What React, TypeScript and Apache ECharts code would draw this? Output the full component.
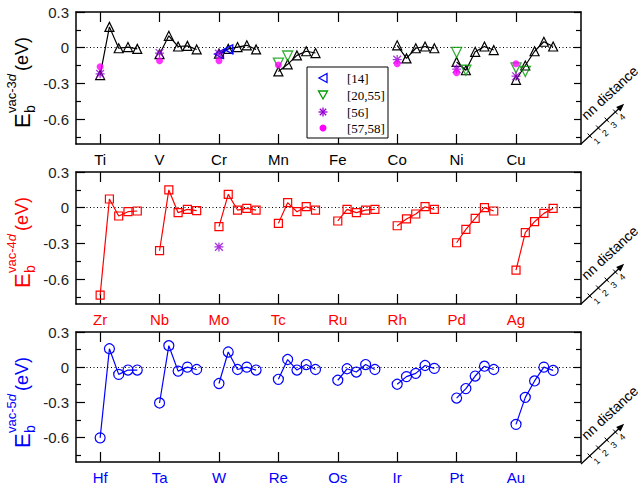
import React, { useEffect, useRef } from 'react';
import * as echarts from 'echarts';

// ---------------- data ----------------
const ELEMENTS_3D = ['Ti', 'V', 'Cr', 'Mn', 'Fe', 'Co', 'Ni', 'Cu'];
const ELEMENTS_4D = ['Zr', 'Nb', 'Mo', 'Tc', 'Ru', 'Rh', 'Pd', 'Ag'];
const ELEMENTS_5D = ['Hf', 'Ta', 'W', 'Re', 'Os', 'Ir', 'Pt', 'Au'];
const NN_DISTANCES = [1, 2, 3, 4, 5];

// binding energies (eV) for nn = 1..5, null = not computed
const EB_3D: (number[] | null)[] = [
  [-0.23, 0.175, -0.005, 0.005, -0.01], // Ti
  [-0.055, 0.1, 0.01, 0.015, -0.015], // V
  [-0.05, -0.01, 0.005, 0.02, -0.015], // Cr
  [-0.2, -0.14, -0.065, -0.03, -0.045], // Mn
  null, // Fe
  [0.02, -0.09, -0.005, 0.01, -0.005], // Co
  [-0.12, -0.19, -0.035, 0.01, -0.02], // Ni
  [-0.27, -0.15, -0.03, 0.05, 0.01], // Cu
];
const EB_4D: (number[] | null)[] = [
  [-0.736, 0.073, -0.07, -0.034, -0.028], // Zr
  [-0.362, 0.149, -0.042, -0.014, -0.025], // Nb
  [-0.16, 0.112, -0.02, -0.006, -0.02], // Mo
  [-0.132, 0.042, -0.034, 0.008, -0.02], // Tc
  [-0.112, -0.014, -0.042, -0.02, -0.014], // Ru
  [-0.152, -0.095, -0.053, 0.008, -0.014], // Rh
  [-0.295, -0.183, -0.09, 0.0, -0.028], // Pd
  [-0.525, -0.21, -0.118, -0.048, -0.006], // Ag
];
const EB_5D: (number[] | null)[] = [
  [-0.604, 0.157, -0.062, -0.025, -0.025], // Hf
  [-0.306, 0.183, -0.034, 0.0, -0.02], // Ta
  [-0.14, 0.129, -0.02, 0.0, -0.025], // W
  [-0.104, 0.065, -0.025, 0.022, -0.02], // Re
  [-0.112, -0.014, -0.042, 0.022, -0.02], // Os
  [-0.146, -0.081, -0.053, 0.014, -0.011], // Ir
  [-0.264, -0.183, -0.076, 0.008, -0.02], // Pt
  [-0.489, -0.258, -0.118, 0.0, -0.028], // Au
];

// literature values: [element, nn, value]
const REF_14: [string, number, number][] = [
  ['Cr', 1, -0.053],
  ['Cr', 2, -0.014],
];
const REF_20_55: [string, number, number][] = [
  ['Mn', 1, -0.13],
  ['Mn', 2, -0.07],
  ['Ni', 1, -0.04],
  ['Ni', 2, -0.19],
  ['Cu', 1, -0.17],
  ['Cu', 2, -0.2],
];
const REF_56_3D: [string, number, number][] = [
  ['Ti', 1, -0.22],
  ['V', 1, -0.045],
  ['Cr', 1, -0.05],
  ['Co', 1, -0.1],
  ['Ni', 1, -0.18],
  ['Cu', 1, -0.24],
];
const REF_56_4D: [string, number, number][] = [['Mo', 1, -0.33]];
const REF_57_58: [string, number, number][] = [
  ['Ti', 1, -0.16],
  ['V', 1, -0.11],
  ['Cr', 1, -0.11],
  ['Mn', 1, -0.145],
  ['Co', 1, -0.135],
  ['Ni', 1, -0.21],
  ['Cu', 1, -0.135],
];

const LEGEND_LABELS = ['[14]', '[20,55]', '[56]', '[57,58]'];
const Y_MAJOR = [-0.6, -0.3, 0, 0.3];
const Y_MINOR = [-0.75, -0.45, -0.15, 0.15];
const NN_TICK_LABELS = ['1', '2', '3', '4'];

// ---------------- layout / style ----------------
const X_STEP = 6.4;
const X_MIN = -2.6;
const X_MAX = 51.8;
const Y_MIN = -0.81;
const Y_MAX = 0.3;
const GRID_LEFT = 76;
const GRID_RIGHT = 60;
const GRID_TOPS = [12, 172, 332];
const GRID_H = 132;
const FONT = 'Liberation Sans, Arial, sans-serif';
const SERIF = 'Liberation Serif, Times New Roman, serif';
const BLACK = '#000000';
const RED = '#ff0000';
const BLUE = '#0000ff';
const GREEN = '#009a00';
const PURPLE = '#9400d3';
const MAGENTA = '#ff00ff';

const ASTERISK =
  'path://M4.3 0H5.7V10H4.3Z M0 4.3H10V5.7H0Z M1.2 0.2L9.8 8.8L8.8 9.8L0.2 1.2Z M8.8 0.2L9.8 1.2L1.2 9.8L0.2 8.8Z';

const PANELS = [
  { elements: ELEMENTS_3D, data: EB_3D, color: BLACK, symbol: 'triangle', size: 9, sup: 'vac-3' },
  { elements: ELEMENTS_4D, data: EB_4D, color: RED, symbol: 'rect', size: 8, sup: 'vac-4' },
  { elements: ELEMENTS_5D, data: EB_5D, color: BLUE, symbol: 'circle', size: 10, sup: 'vac-5' },
];

function refPoints(refs: [string, number, number][], elements: string[]) {
  return refs.map(([el, nn, v]) => [elements.indexOf(el) * X_STEP + (nn - 1), v]);
}

function nnDiagram(bottom: number): any[] {
  const ox = GRID_LEFT + (641 - GRID_LEFT - GRID_RIGHT);
  const oy = bottom;
  const ang = (43 * Math.PI) / 180;
  const u = [Math.cos(ang), -Math.sin(ang)];
  const n = [Math.sin(ang), Math.cos(ang)];
  const P = (t: number, s: number) => [ox + u[0] * t + n[0] * s, oy + u[1] * t + n[1] * s];
  const els: any[] = [];
  els.push({
    type: 'line',
    shape: { x1: ox, y1: oy, x2: P(52, 0)[0], y2: P(52, 0)[1] },
    style: { stroke: BLACK, lineWidth: 1.2 },
    z: 50,
  });
  const tip = P(59, 0);
  const b1 = P(51, -3.2);
  const b2 = P(51, 3.2);
  els.push({
    type: 'polygon',
    shape: { points: [tip, b1, b2] },
    style: { fill: BLACK },
    z: 50,
  });
  [12, 23.7, 35.3, 47].forEach((t, k) => {
    const a = P(t, -3.2);
    const b = P(t, 3.2);
    els.push({
      type: 'line',
      shape: { x1: a[0], y1: a[1], x2: b[0], y2: b[1] },
      style: { stroke: BLACK, lineWidth: 1 },
      z: 50,
    });
    const lp = P(t + 1.5, 8.5);
    els.push({
      type: 'text',
      x: lp[0],
      y: lp[1],
      rotation: ang,
      style: {
        text: NN_TICK_LABELS[k],
        fontSize: 9,
        fontFamily: FONT,
        fill: BLACK,
        align: 'center',
        verticalAlign: 'middle',
      },
      z: 50,
    });
  });
  const tp = P(20, -11);
  els.push({
    type: 'text',
    x: tp[0],
    y: tp[1],
    rotation: ang,
    style: {
      text: 'nn distance',
      fontSize: 14,
      fontFamily: FONT,
      fill: BLACK,
      align: 'left',
      verticalAlign: 'bottom',
    },
    z: 50,
  });
  return els;
}

function yTitle(g: number, color: string, sup: string): any {
  const top = GRID_TOPS[g];
  return {
    type: 'group',
    x: 22,
    y: top + 116,
    rotation: Math.PI / 2,
    z: 50,
    children: [
      {
        type: 'text',
        x: 0,
        y: 0,
        style: { text: 'E', fontSize: 22, fontFamily: FONT, fill: color, align: 'left', verticalAlign: 'middle' },
      },
      {
        type: 'text',
        x: 15,
        y: 8,
        style: { text: 'b', fontSize: 14, fontFamily: FONT, fill: color, align: 'left', verticalAlign: 'middle' },
      },
      {
        type: 'text',
        x: 15,
        y: -11,
        style: {
          text: '{a|' + sup + '}{b|d}',
          fill: color,
          align: 'left',
          verticalAlign: 'middle',
          rich: {
            a: { fontSize: 13, fontFamily: FONT, fill: color },
            b: { fontSize: 13, fontFamily: FONT, fontStyle: 'italic', fill: color },
          },
        },
      },
      {
        type: 'text',
        x: 57,
        y: 0,
        style: { text: '(eV)', fontSize: 18, fontFamily: FONT, fill: color, align: 'left', verticalAlign: 'middle' },
      },
    ],
  };
}

function legendGraphic(): any[] {
  const x0 = 307;
  const y0 = 67;
  const sx = 323;
  const rows = [78, 95, 112, 128];
  const els: any[] = [
    {
      type: 'rect',
      shape: { x: x0, y: y0, width: 81, height: 71 },
      style: { fill: '#ffffff', stroke: BLACK, lineWidth: 1 },
      z: 60,
    },
    {
      type: 'polygon',
      shape: { points: [[sx + 4, rows[0] - 4.5], [sx - 4, rows[0]], [sx + 4, rows[0] + 4.5]] },
      style: { fill: 'none', stroke: BLUE, lineWidth: 1.3 },
      z: 61,
    },
    {
      type: 'polygon',
      shape: { points: [[sx - 4.5, rows[1] - 4], [sx + 4.5, rows[1] - 4], [sx, rows[1] + 4]] },
      style: { fill: 'none', stroke: GREEN, lineWidth: 1.3 },
      z: 61,
    },
    {
      type: 'circle',
      shape: { cx: sx, cy: rows[3], r: 3.5 },
      style: { fill: MAGENTA },
      z: 61,
    },
  ];
  for (let k = 0; k < 4; k++) {
    const a = (k * Math.PI) / 4;
    els.push({
      type: 'line',
      shape: {
        x1: sx - 4.5 * Math.cos(a),
        y1: rows[2] - 4.5 * Math.sin(a),
        x2: sx + 4.5 * Math.cos(a),
        y2: rows[2] + 4.5 * Math.sin(a),
      },
      style: { stroke: PURPLE, lineWidth: 1.3 },
      z: 61,
    });
  }
  LEGEND_LABELS.forEach((t, k) => {
    els.push({
      type: 'text',
      x: 347,
      y: rows[k],
      style: { text: t, fontSize: 13, fontFamily: SERIF, fill: BLACK, align: 'left', verticalAlign: 'middle' },
      z: 61,
    });
  });
  return els;
}

export default function App() {
  const ref = useRef<HTMLDivElement>(null);
  useEffect(() => {
    if (!ref.current) return;
    const chart = echarts.init(ref.current, null, { renderer: 'svg' });

    const grids = GRID_TOPS.map((top) => ({ left: GRID_LEFT, right: GRID_RIGHT, top, height: GRID_H }));
    const xAxes: any[] = [];
    const yAxes: any[] = [];
    const series: any[] = [];

    PANELS.forEach((p, g) => {
      const ticks = p.elements.map((_, i) => i * X_STEP);
      const baseX = {
        type: 'value',
        gridIndex: g,
        min: X_MIN,
        max: X_MAX,
        splitLine: { show: false },
        axisLine: { show: true, onZero: false, lineStyle: { color: BLACK, width: 1.5 } },
        axisTick: { show: true, inside: true, length: 10, customValues: ticks, lineStyle: { color: BLACK, width: 1.2 } },
      };
      xAxes.push({
        ...baseX,
        position: 'bottom',
        axisLabel: {
          show: true,
          customValues: ticks,
          formatter: (v: number) => p.elements[Math.round(v / X_STEP)] ?? '',
          color: p.color,
          fontSize: 15,
          fontFamily: FONT,
          margin: 8,
        },
      });
      xAxes.push({ ...baseX, position: 'top', axisLabel: { show: false } });

      const baseY = {
        type: 'value',
        gridIndex: g,
        min: Y_MIN,
        max: Y_MAX,
        splitLine: { show: false },
      };
      const fmt = (v: number) => (Math.abs(v) < 1e-9 ? '0' : v.toFixed(1));
      yAxes.push({
        ...baseY,
        position: 'left',
        axisLine: { show: true, onZero: false, lineStyle: { color: BLACK, width: 1.5 } },
        axisTick: { show: true, inside: true, length: 9, customValues: Y_MAJOR, lineStyle: { color: BLACK, width: 1.2 } },
        axisLabel: { show: true, customValues: Y_MAJOR, formatter: fmt, color: '#222', fontSize: 15, fontFamily: FONT, margin: 7 },
      });
      yAxes.push({
        ...baseY,
        position: 'left',
        axisLine: { show: false, onZero: false },
        axisTick: { show: true, inside: true, length: 5, customValues: Y_MINOR, lineStyle: { color: BLACK, width: 1.2 } },
        axisLabel: { show: false },
      });
      yAxes.push({
        ...baseY,
        position: 'right',
        axisLine: { show: true, onZero: false, lineStyle: { color: BLACK, width: 1.5 } },
        axisTick: { show: true, inside: true, length: 7, customValues: Y_MAJOR, lineStyle: { color: BLACK, width: 1.2 } },
        axisLabel: { show: false },
      });
      yAxes.push({
        ...baseY,
        position: 'right',
        axisLine: { show: false, onZero: false },
        axisTick: { show: true, inside: true, length: 5, customValues: Y_MINOR, lineStyle: { color: BLACK, width: 1.2 } },
        axisLabel: { show: false },
      });

      let first = true;
      p.data.forEach((vals, i) => {
        if (!vals) return;
        const s: any = {
          type: 'line',
          name: p.elements[i],
          xAxisIndex: 2 * g,
          yAxisIndex: 4 * g,
          data: vals.map((v, d) => [i * X_STEP + (NN_DISTANCES[d] - 1), v]),
          symbol: p.symbol,
          symbolSize: p.size,
          showSymbol: true,
          lineStyle: { color: p.color, width: 1.2 },
          itemStyle: { color: 'none', borderColor: p.color, borderWidth: 1.2 },
          z: 3,
          silent: true,
        };
        if (first) {
          s.markLine = {
            silent: true,
            symbol: 'none',
            label: { show: false },
            lineStyle: { color: BLACK, width: 1, type: [1, 2.5] },
            data: [{ yAxis: 0 }],
            z: 1,
          };
          first = false;
        }
        series.push(s);
      });
    });

    // literature points
    series.push({
      type: 'line',
      name: '[14]',
      xAxisIndex: 0,
      yAxisIndex: 0,
      data: refPoints(REF_14, ELEMENTS_3D),
      symbol: 'triangle',
      symbolRotate: 90,
      symbolSize: 9,
      lineStyle: { color: BLUE, width: 1.2 },
      itemStyle: { color: 'none', borderColor: BLUE, borderWidth: 1.3 },
      z: 4,
    });
    series.push({
      type: 'scatter',
      name: '[20,55]',
      xAxisIndex: 0,
      yAxisIndex: 0,
      data: refPoints(REF_20_55, ELEMENTS_3D),
      symbol: 'triangle',
      symbolRotate: 180,
      symbolSize: 10,
      itemStyle: { color: 'none', borderColor: GREEN, borderWidth: 1.3 },
      z: 5,
    });
    series.push({
      type: 'scatter',
      name: '[56]',
      xAxisIndex: 0,
      yAxisIndex: 0,
      data: refPoints(REF_56_3D, ELEMENTS_3D),
      symbol: ASTERISK,
      symbolSize: 9,
      itemStyle: { color: PURPLE },
      z: 6,
    });
    series.push({
      type: 'scatter',
      name: '[56] 4d',
      xAxisIndex: 2,
      yAxisIndex: 4,
      data: refPoints(REF_56_4D, ELEMENTS_4D),
      symbol: ASTERISK,
      symbolSize: 9,
      itemStyle: { color: PURPLE },
      z: 6,
    });
    series.push({
      type: 'scatter',
      name: '[57,58]',
      xAxisIndex: 0,
      yAxisIndex: 0,
      data: refPoints(REF_57_58, ELEMENTS_3D),
      symbol: 'circle',
      symbolSize: 7,
      itemStyle: { color: MAGENTA },
      z: 7,
    });

    const graphic: any[] = [];
    PANELS.forEach((p, g) => {
      graphic.push(yTitle(g, p.color, p.sup));
      graphic.push(...nnDiagram(GRID_TOPS[g] + GRID_H));
    });
    graphic.push(...legendGraphic());

    chart.setOption({
      animation: false,
      backgroundColor: '#ffffff',
      grid: grids,
      xAxis: xAxes,
      yAxis: yAxes,
      series,
      graphic,
    });
    return () => chart.dispose();
  }, []);
  return <div ref={ref} style={{ position: 'fixed', left: 0, top: 0, width: 641, height: 485 }} />;
}
